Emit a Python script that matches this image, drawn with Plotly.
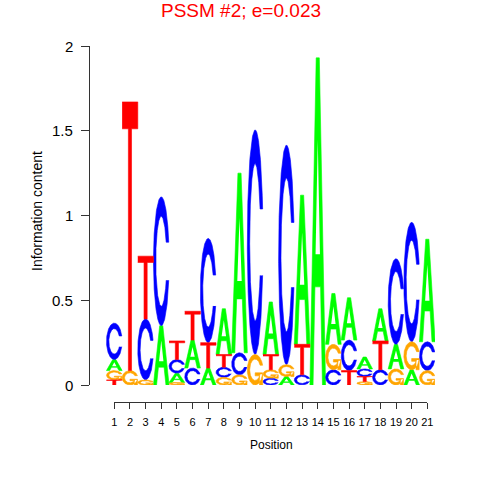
import numpy as np
import plotly.graph_objects as go

# ---------------- data ----------------
positions = list(range(1, 22))
tick_labels = [str(p) for p in positions]
# information content per nucleotide (bits)
height_A = [0.065, 0.0, 0.0, 0.35, 0.055, 0.165, 0.10, 0.27, 1.06, 0.0, 0.31,
            0.05, 0.88, 1.93, 0.30, 0.25, 0.07, 0.19, 0.145, 0.09, 0.605]
height_C = [0.215, 0.0, 0.36, 0.76, 0.08, 0.10, 0.615, 0.06, 0.13, 1.325, 0.04,
            1.295, 0.06, 0.0, 0.09, 0.18, 0.045, 0.09, 0.505, 0.705, 0.17]
height_G = [0.055, 0.085, 0.03, 0.0, 0.015, 0.0, 0.0, 0.045, 0.06, 0.18, 0.05,
            0.07, 0.0, 0.0, 0.15, 0.0, 0.02, 0.0, 0.095, 0.165, 0.085]
height_T = [0.03, 1.585, 0.37, 0.0, 0.11, 0.17, 0.15, 0.075, 0.0, 0.0, 0.09,
            0.0, 0.18, 0.0, 0.0, 0.085, 0.03, 0.17, 0.0, 0.0, 0.0]
y_ticks = [0, 0.5, 1, 1.5, 2]
y_tick_labels = ["0", "0.5", "1", "1.5", "2"]
title_text = "PSSM #2; e=0.023"

colors = {"A": "#00FF00", "C": "#0000FF", "G": "#FFA500", "T": "#FF0000"}

# ---------------- letter glyph outlines (unit square) ----------------
def c_outline():
    a1 = np.linspace(0.3 + np.pi / 2, np.pi, 100)
    a2 = np.linspace(np.pi, 1.5 * np.pi, 100)
    xl1 = 0.5 + 0.5 * np.sin(a1); yl1 = 0.5 + 0.5 * np.cos(a1)
    xl2 = 0.5 + 0.5 * np.sin(a2); yl2 = 0.5 + 0.5 * np.cos(a2)
    xl = np.concatenate([xl1, xl2]); yl = np.concatenate([yl1, yl2])
    x = np.concatenate([xl, xl[::-1]]); y = np.concatenate([yl, 1 - yl[::-1]])
    xi1 = 0.5 + 0.35 * np.sin(a1); yi1 = 0.5 + 0.35 * np.cos(a1)
    keep = yi1 <= yl1.max()
    xi1 = xi1[keep]; yi1 = yi1[keep].copy(); yi1[0] = yl1.max()
    xi2 = 0.5 + 0.35 * np.sin(a2); yi2 = 0.5 + 0.35 * np.cos(a2)
    xi = np.concatenate([xi1, xi2]); yi = np.concatenate([yi1, yi2])
    x1 = np.concatenate([xi, xi[::-1]]); y1 = np.concatenate([yi, 1 - yi[::-1]])
    x = np.concatenate([x, x1[::-1]]); y = np.concatenate([y, y1[::-1]])
    return [(x, y)], float(xl1.max())

def glyph(letter):
    if letter == "A":
        x = np.array([0, 4, 6, 10, 8, 6.8, 3.2, 2, 0]) / 10
        y = np.array([0, 10, 10, 0, 0, 3, 3, 0, 0]) / 10
        return [(x, y)]
    if letter == "T":
        x = np.array([0, 10, 10, 6, 6, 4, 4, 0]) / 10
        y = np.array([10, 10, 9, 9, 0, 0, 9, 9]) / 10
        return [(x, y)]
    polys, r1 = c_outline()
    if letter == "C":
        return polys
    h1 = 0.4
    xa = np.array([r1, 0.5, 0.5, r1 - 0.2, r1 - 0.2, r1, r1])
    ya = np.array([h1, h1, h1 - 0.1, h1 - 0.1, 0, 0, h1])
    return polys + [(xa, ya)]

hole_x = np.array([3.6, 5, 6.4, 3.6]) / 10
hole_y = np.array([4, 7.5, 4, 4]) / 10

heights = {"A": height_A, "C": height_C, "G": height_G, "T": height_T}
paths = {k: ([], []) for k in "ACGT"}
holes = ([], [])
for i, p in enumerate(positions):
    stack = sorted([(heights[l][i], l) for l in "ACGT" if heights[l][i] > 0])
    base = 0.0
    for h, l in stack:
        for gx, gy in glyph(l):
            paths[l][0].extend(list(p - 0.5 + gx) + [None])
            paths[l][1].extend(list(base + h * gy) + [None])
        if l == "A":
            holes[0].extend(list(p - 0.5 + hole_x) + [None])
            holes[1].extend(list(base + h * hole_y) + [None])
        base += h

fig = go.Figure()
# invisible trace carrying the position axis (drawn first, underneath)
fig.add_trace(go.Scatter(x=[positions[0], positions[-1]], y=[0, 0], xaxis="x2",
                         mode="markers", marker=dict(opacity=0),
                         hoverinfo="skip", showlegend=False))
for l in "ACGT":
    fig.add_trace(go.Scatter(x=paths[l][0], y=paths[l][1], mode="lines",
                             fill="toself", fillcolor=colors[l],
                             line=dict(width=0.6, color=colors[l]),
                             hoverinfo="skip", showlegend=False))
fig.add_trace(go.Scatter(x=holes[0], y=holes[1], mode="lines", fill="toself",
                         fillcolor="white", line=dict(width=0, color="white"),
                         hoverinfo="skip", showlegend=False))

FONT = "Liberation Sans, Arial, Helvetica, sans-serif"
L, R, T, B = 90, 45, 46, 78
pw, ph = 480 - L - R, 480 - T - B
px_per_pos = 15.65
tick1_px = 114.3
x_lo = 1 - (tick1_px - L) / px_per_pos
x_hi = 1 + (480 - R - tick1_px) / px_per_pos
d0 = (tick1_px - L) / pw
d1 = (tick1_px + 20 * px_per_pos - L) / pw

annotations = [
    dict(text="Information content", textangle=-90, showarrow=False,
         xref="paper", yref="paper", x=(37 - L) / pw, y=(480 - B - 211) / ph,
         xanchor="center", yanchor="middle", font=dict(size=14)),
    dict(text="Position", showarrow=False, xref="paper", yref="paper",
         x=(271 - L) / pw, y=(480 - B - 445) / ph,
         xanchor="center", yanchor="middle", font=dict(size=12)),
]
for v, t in zip(y_ticks, y_tick_labels):
    annotations.append(dict(text=t, showarrow=False, xref="paper", yref="y",
                            x=(75 - L) / pw, y=v, xanchor="right",
                            yanchor="middle", font=dict(size=15)))

fig.update_layout(
    width=480, height=480,
    margin=dict(l=L, r=R, t=T, b=B),
    plot_bgcolor="rgba(0,0,0,0)", paper_bgcolor="white",
    font=dict(family=FONT, color="black"),
    title=dict(text=title_text, font=dict(size=19, color="#FF0000", family=FONT),
               x=241 / 480, xref="container", xanchor="center",
               y=1 - 10 / 480, yref="container", yanchor="middle"),
    xaxis=dict(domain=[0, 1], range=[x_lo, x_hi], visible=False, fixedrange=True),
    yaxis=dict(domain=[(480 - B - 385) / ph, 1], range=[0, 2],
               tickvals=y_ticks, showticklabels=False,
               showline=True, linecolor="#333333", linewidth=1,
               ticks="outside", ticklen=8, tickcolor="#333333",
               showgrid=False, zeroline=False),
    xaxis2=dict(domain=[d0, d1], range=[positions[0], positions[-1]],
                anchor="free", position=0,
                tickvals=positions, ticktext=tick_labels,
                showline=True, linecolor="#333333", linewidth=1,
                ticks="outside", ticklen=6, tickcolor="#333333",
                ticklabelstandoff=4,
                tickfont=dict(size=11), showgrid=False, zeroline=False),
    annotations=annotations,
)

fig.write_html("out.html", config={"displayModeBar": False},
               post_script="document.body.style.margin='0';document.body.style.overflow='hidden';")
